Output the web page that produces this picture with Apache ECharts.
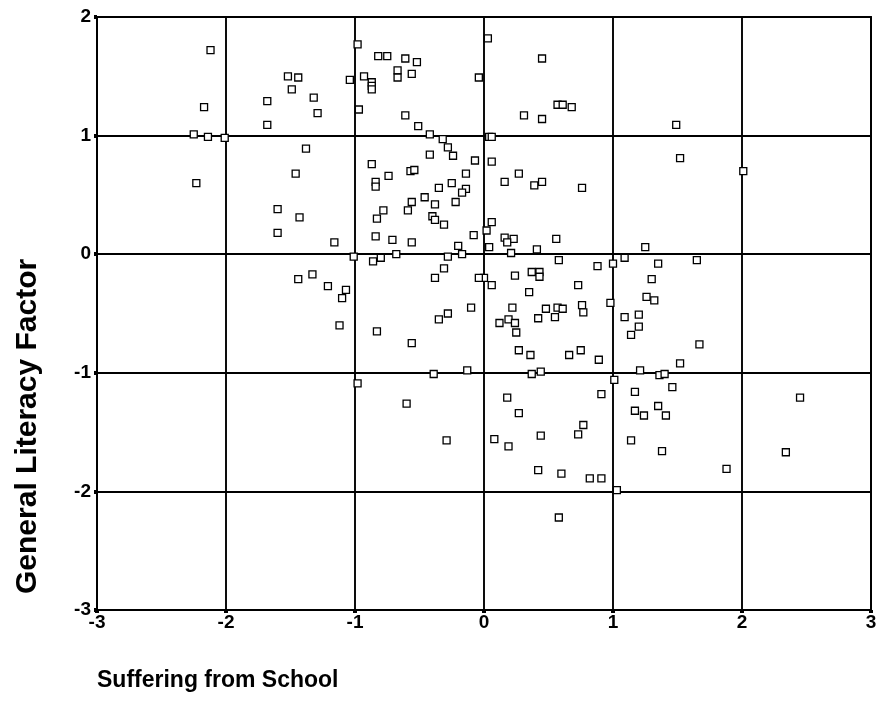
<!DOCTYPE html>
<html>
<head>
<meta charset="utf-8">
<script src="https://cdn.jsdelivr.net/npm/echarts@6/dist/echarts.min.js"></script>
<style>
  html, body { margin: 0; padding: 0; background: #fff; }
  #chart { width: 881px; height: 718px; }
</style>
</head>
<body>
<div id="chart"></div>
<script>
// Axis ranges and tick labels
const xTicks = [-3, -2, -1, 0, 1, 2, 3];
const yTicks = [-3, -2, -1, 0, 1, 2];
const xTitle = 'Suffering from School';
const yTitle = 'General Literacy Factor';

// Respondents: [Suffering from School, General Literacy Factor]
const pointsUpperLeft = [
  [-2.12, 1.72], [-2.17, 1.24], [-2.25, 1.01], [-2.14, 0.99], [-2.01, 0.98],
  [-2.23, 0.60], [-1.52, 1.50], [-1.44, 1.49], [-1.49, 1.39], [-1.68, 1.29],
  [-1.32, 1.32], [-1.29, 1.19], [-1.68, 1.09], [-1.38, 0.89], [-1.46, 0.68],
  [-1.60, 0.38], [-1.43, 0.31], [-1.60, 0.18], [-1.16, 0.10], [-1.01, -0.02]
];
const pointsUpperCentre = [
  [-0.98, 1.77], [-0.82, 1.67], [-0.75, 1.67], [-0.61, 1.65], [-0.52, 1.62],
  [-0.67, 1.55], [-0.67, 1.49], [-0.56, 1.52], [-1.04, 1.47], [-0.93, 1.50],
  [-0.87, 1.45], [-0.87, 1.42], [-0.87, 1.39], [-0.04, 1.49], [-0.97, 1.22],
  [-0.61, 1.17], [-0.51, 1.08], [-0.42, 1.01], [-0.32, 0.97], [-0.28, 0.90],
  [-0.24, 0.83], [-0.42, 0.84], [-0.07, 0.79], [-0.87, 0.76], [-0.74, 0.66],
  [-0.57, 0.70], [-0.54, 0.71], [-0.84, 0.61], [-0.84, 0.57], [-0.14, 0.68],
  [-0.25, 0.60], [-0.35, 0.56], [-0.14, 0.55], [-0.17, 0.52], [-0.22, 0.44],
  [-0.46, 0.48], [-0.38, 0.42], [-0.56, 0.44], [-0.59, 0.37], [-0.78, 0.37],
  [-0.83, 0.30], [-0.40, 0.32], [-0.38, 0.29], [-0.31, 0.25], [-0.08, 0.16],
  [-0.84, 0.15], [-0.71, 0.12], [-0.56, 0.10], [-0.20, 0.07], [-0.17, 0.00],
  [-0.28, -0.02], [-0.68, 0.00], [-0.80, -0.03], [-0.86, -0.06]
];
const pointsUpperRight = [
  [0.03, 1.82], [0.45, 1.65], [0.57, 1.26], [0.61, 1.26], [0.68, 1.24],
  [0.31, 1.17], [0.45, 1.14], [1.49, 1.09], [0.04, 0.99], [0.06, 0.99],
  [1.52, 0.81], [0.06, 0.78], [0.27, 0.68], [0.16, 0.61], [0.39, 0.58],
  [0.45, 0.61], [0.76, 0.56], [2.01, 0.70], [0.06, 0.27], [0.02, 0.20],
  [0.16, 0.14], [0.23, 0.13], [0.18, 0.10], [0.04, 0.06], [0.56, 0.13],
  [0.41, 0.04], [0.21, 0.01], [1.25, 0.06]
];
const pointsLowerRight = [
  [0.58, -0.05], [0.88, -0.10], [1.00, -0.08], [1.09, -0.03], [1.35, -0.08],
  [1.65, -0.05], [0.00, -0.20], [0.06, -0.26], [0.24, -0.18], [0.37, -0.15],
  [0.43, -0.15], [0.43, -0.19], [0.73, -0.26], [1.30, -0.21], [0.35, -0.32],
  [1.26, -0.36], [1.32, -0.39], [0.98, -0.41], [0.22, -0.45], [0.48, -0.46],
  [0.57, -0.45], [0.61, -0.46], [0.76, -0.43], [0.77, -0.49], [1.09, -0.53],
  [1.20, -0.51], [1.20, -0.61], [1.14, -0.68], [0.12, -0.58], [0.19, -0.55],
  [0.24, -0.58], [0.25, -0.66], [0.42, -0.54], [0.55, -0.53], [1.67, -0.76],
  [0.27, -0.81], [0.36, -0.85], [0.66, -0.85], [0.75, -0.81], [0.89, -0.89],
  [1.52, -0.92], [1.21, -0.98], [1.36, -1.02], [1.40, -1.01], [0.37, -1.01],
  [0.44, -0.99], [1.01, -1.06], [2.45, -1.21], [0.18, -1.21], [0.27, -1.34],
  [0.91, -1.18], [1.17, -1.16], [1.46, -1.12], [1.35, -1.28], [1.41, -1.36],
  [1.17, -1.32], [1.24, -1.36], [0.77, -1.44], [0.73, -1.52], [0.44, -1.53],
  [0.08, -1.56], [1.14, -1.57], [0.19, -1.62], [1.38, -1.66], [0.42, -1.82],
  [0.60, -1.85], [0.82, -1.89], [0.91, -1.89], [1.88, -1.81], [2.34, -1.67],
  [1.03, -1.99], [0.58, -2.22]
];
const pointsLowerLeft = [
  [-1.07, -0.30], [-1.10, -0.37], [-1.21, -0.27], [-1.12, -0.60], [-0.83, -0.65],
  [-0.56, -0.75], [-0.31, -0.12], [-0.38, -0.20], [-0.04, -0.20], [-0.10, -0.45],
  [-0.28, -0.50], [-0.35, -0.55], [-0.39, -1.01], [-0.13, -0.98], [-0.98, -1.09],
  [-0.60, -1.26], [-0.29, -1.57], [-1.44, -0.21], [-1.33, -0.17]
];

const allPoints = [].concat(
  pointsUpperLeft, pointsUpperCentre, pointsUpperRight,
  pointsLowerRight, pointsLowerLeft
);

const tickFont = {
  color: '#000',
  fontFamily: '"Liberation Sans Narrow", "Liberation Sans", Arial, sans-serif',
  fontWeight: 'bold',
  fontSize: 19
};
const titleFont = {
  fill: '#000',
  fontFamily: '"Liberation Sans", Arial, sans-serif',
  fontWeight: 'bold',
  fontSize: 23
};
const gridLine = { show: true, lineStyle: { color: '#000', width: 1.9 } };
const tickMark = { show: true, length: 3, lineStyle: { color: '#000', width: 4 } };

const chart = echarts.init(document.getElementById('chart'), null, { renderer: 'canvas' });
chart.setOption({
  animation: false,
  backgroundColor: '#fff',
  grid: {
    left: 97, right: 10, top: 17, bottom: 108,
    show: true, borderColor: '#000', borderWidth: 1.9
  },
  xAxis: {
    type: 'value',
    min: xTicks[0], max: xTicks[xTicks.length - 1], interval: 1,
    axisLine: { show: true, onZero: false, lineStyle: { color: '#000', width: 2 } },
    axisTick: tickMark,
    splitLine: gridLine,
    axisLabel: Object.assign({ margin: 3 }, tickFont)
  },
  yAxis: {
    type: 'value',
    min: yTicks[0], max: yTicks[yTicks.length - 1], interval: 1,
    axisLine: { show: true, onZero: false, lineStyle: { color: '#000', width: 2 } },
    axisTick: tickMark,
    splitLine: gridLine,
    axisLabel: Object.assign({ margin: 6 }, tickFont)
  },
  graphic: [
    {
      type: 'text', left: 97, top: 669,
      style: Object.assign({ text: xTitle }, titleFont)
    },
    {
      type: 'text', x: 13, y: 594, rotation: Math.PI / 2,
      style: Object.assign({ text: yTitle }, titleFont, { fontSize: 30 })
    }
  ],
  series: [{
    type: 'scatter',
    data: allPoints,
    symbol: 'rect',
    symbolSize: 7,
    itemStyle: { color: '#fff', borderColor: '#000', borderWidth: 1.3, opacity: 1 },
    z: 5
  }]
});
</script>
</body>
</html>
